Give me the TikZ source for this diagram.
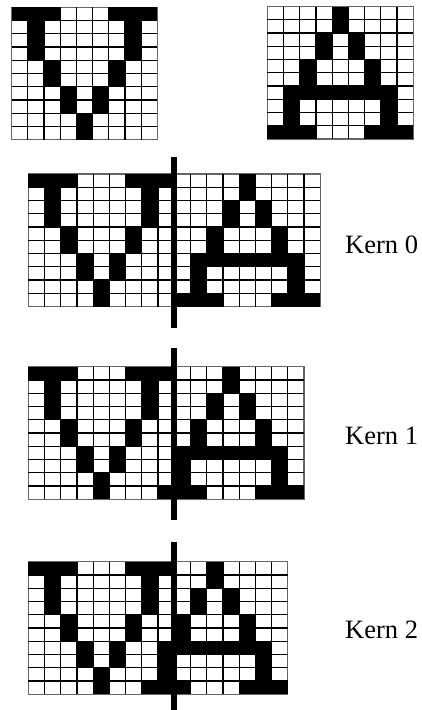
\documentclass[tikz,border=0pt]{standalone}
\usepackage{fontspec}
\setmainfont{Liberation Serif}
\def\cw{16.22}
\def\ch{13.25}
\def\Vcells{0/0,1/0,2/0,6/0,7/0,8/0,1/1,7/1,1/2,7/2,1/3,7/3,2/4,6/4,2/5,6/5,3/6,5/6,3/7,5/7,4/8,4/9}
\def\Acells{4/0,4/1,3/2,5/2,3/3,5/3,2/4,6/4,2/5,6/5,1/6,2/6,3/6,4/6,5/6,6/6,7/6,1/7,7/7,1/8,7/8,0/9,1/9,2/9,6/9,7/9,8/9}
\newcommand{\glyphbg}[2]{%
  \fill[white] (#1,#2) rectangle ++(9*\cw,10*\ch);
  \draw[gridborder] (#1,#2) rectangle ++(9*\cw,10*\ch);
}
\newcommand{\glyphcells}[3]{%
  \foreach \c/\r in #3 {\fill[black] ({#1+\c*\cw},{#2+\r*\ch}) rectangle ++(\cw,\ch);}
}
\newcommand{\glyphlines}[2]{%
  \foreach \i in {1,...,8} {\draw[gridline] ({#1+\i*\cw},#2) -- ++(0,10*\ch);}
  \foreach \j in {1,...,9} {\draw[gridline] (#1,{#2+\j*\ch}) -- ++(9*\cw,0);}
}
\newcommand{\glyphpair}[3]{% V x, A x, y
  \glyphbg{#1}{#3}\glyphbg{#2}{#3}
  \glyphcells{#1}{#3}{\Vcells}\glyphcells{#2}{#3}{\Acells}
  \glyphlines{#1}{#3}\glyphlines{#2}{#3}
}
\begin{document}
\begin{tikzpicture}[x=1pt,y=-1pt,
  gridline/.style={draw=black,line width=1.2pt},
  gridborder/.style={draw=black!60,line width=1.2pt},
  kernbar/.style={fill=black},
  kernlabel/.style={anchor=west,inner sep=0pt,font=\fontsize{26.5}{30}\selectfont}]
\useasboundingbox (0,0) rectangle (422,710);
% top glyphs
\glyphbg{11.5}{7.2}
\glyphcells{11.5}{7.2}{\Vcells}
\glyphlines{11.5}{7.2}
\glyphbg{267.3}{6.5}
\glyphcells{267.3}{6.5}{\Acells}
\glyphlines{267.3}{6.5}
% Kern 0
\glyphpair{28.3}{174.28}{174}
\fill[kernbar] (171.2,156.7) rectangle (176.8,327.7);
\node[kernlabel] (k0) at (345,245) {Kern 0};
% Kern 1
\glyphpair{28.3}{158.06}{366.7}
\fill[kernbar] (171.2,348.3) rectangle (176.8,520);
\node[kernlabel] (k1) at (345,436) {Kern 1};
% Kern 2
\glyphpair{28.3}{141.84}{561.7}
\fill[kernbar] (171.2,541.7) rectangle (176.8,710);
\node[kernlabel] (k2) at (345,630) {Kern 2};
\end{tikzpicture}
\end{document}
